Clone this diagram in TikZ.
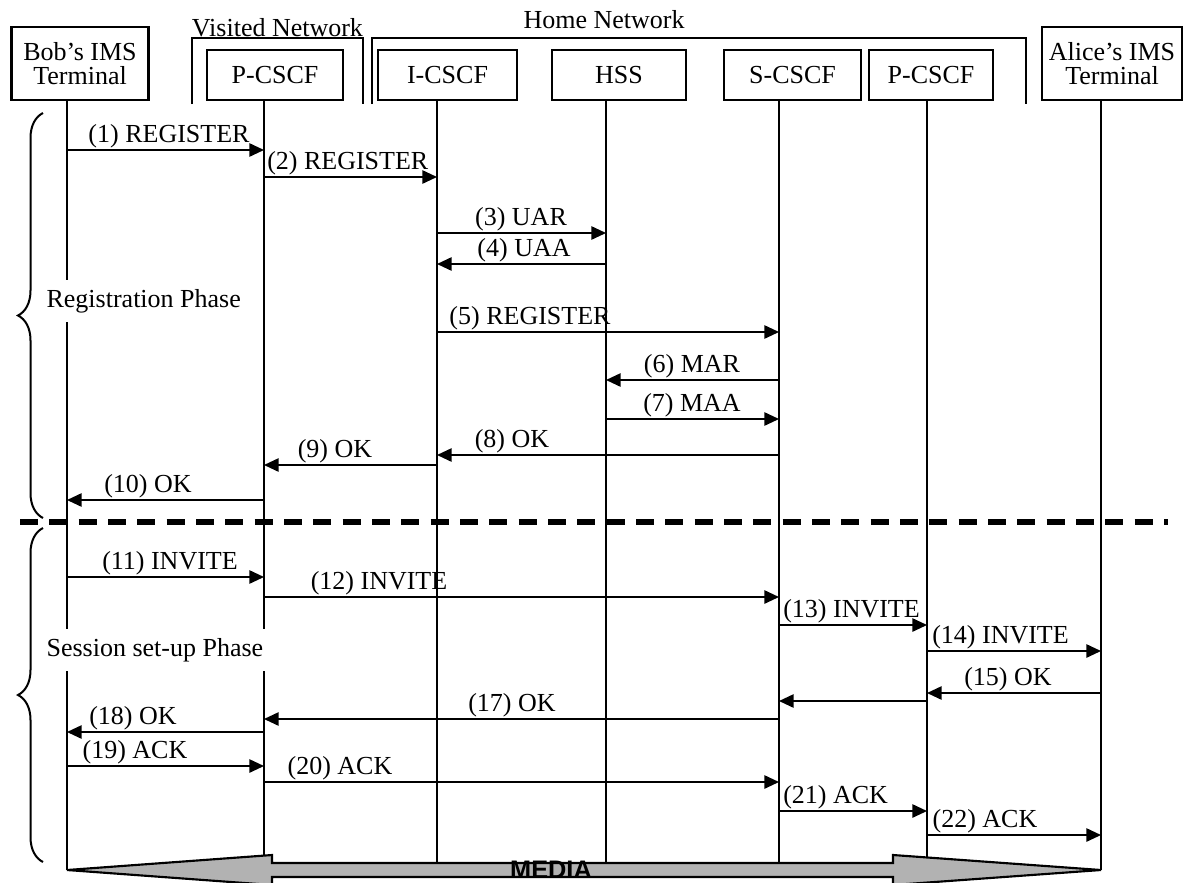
\documentclass[tikz,border=0pt]{standalone}
\usepackage{fontspec}
\setmainfont{Liberation Serif}
\newfontfamily\mediafont{Liberation Sans}
\usetikzlibrary{arrows.meta,decorations.pathreplacing}
\newcommand\sqmsg[7][base]{%
  \coordinate (#2a) at (#3,#5);
  \coordinate (#2b) at (#4,#5);
  \draw[msgline] (#2a) -- (#2b);
  \node[lbl,anchor=#1] (#2t) at (#6,#5-8) {#7};}
\begin{document}
\begin{tikzpicture}[x=0.75pt,y=-0.75pt,
  box/.style={draw, line width=2.2pt, fill=white, inner sep=0pt, align=center,
    font=\fontsize{19.5pt}{18pt}\selectfont},
  life/.style={line width=1.6pt},
  msgline/.style={line width=1.3pt, -{Triangle[length=11pt,width=10pt]}},
  lbl/.style={inner sep=0pt, font=\fontsize{19.5pt}{22pt}\selectfont},
  net/.style={line width=2.2pt},
  phase/.style={fill=white, inner xsep=1pt, inner ysep=7pt, anchor=west,
    font=\fontsize{19.5pt}{22pt}\selectfont},
  dashline/.style={line width=3.8pt, dash pattern=on 13.5pt off 8.5pt},
  brc/.style={decorate, decoration={brace, amplitude=18.75pt}, line width=1.5pt},
  media/.style={draw, line width=1.6pt, fill=black!30}
]
\path[use as bounding box] (0,0) rectangle (1187,882);
\clip (0,0) rectangle (1187,882);

\def\xB{67}\def\xP{264}\def\xI{437}\def\xH{606}\def\xS{779}\def\xQ{927}\def\xA{1101}

% network brackets
\draw[net] (192,104) -- (192,38) -- (363,38) -- (363,104);
\draw[net] (372,104) -- (372,38) -- (1026,38) -- (1026,104);
\node[lbl,anchor=base] (vnet) at (277.5,36) {Visited Network};
\node[lbl,anchor=base] (hnet) at (604,28) {Home Network};

% entity boxes
\node[box, minimum width=102.75pt, minimum height=54.75pt] (bob) at (80,63.5) {Bob’s IMS\\Terminal};
\node[box, minimum width=102pt, minimum height=37.5pt] (pv) at (275,75) {P-CSCF};
\node[box, minimum width=104.25pt, minimum height=37.5pt] (ic) at (447.5,75) {I-CSCF};
\node[box, minimum width=100.5pt, minimum height=37.5pt] (hss) at (619,75) {HSS};
\node[box, minimum width=102.75pt, minimum height=37.5pt] (sc) at (792.5,75) {S-CSCF};
\node[box, minimum width=93pt, minimum height=37.5pt] (ph) at (931,75) {P-CSCF};
\node[box, minimum width=105pt, minimum height=54.75pt] (alice) at (1112,63.5) {Alice’s IMS\\Terminal};

% lifelines
\foreach \n/\x in {lb/\xB, lp/\xP, li/\xI, lh/\xH, ls/\xS, lq/\xQ, la/\xA}{
  \coordinate (\n s) at (\x,100);
  \coordinate (\n e) at (\x,870);
  \draw[life] (\n s) -- (\n e);
}

% messages
\sqmsg{m1}{\xB}{\xP}{150}{169}{(1) REGISTER}
\sqmsg[base west]{m2}{\xP}{\xI}{177}{267}{(2) REGISTER}
\sqmsg{m3}{\xI}{\xH}{233}{521}{(3) UAR}
\sqmsg{m4}{\xH}{\xI}{264}{524}{(4) UAA}
\sqmsg{m5}{\xI}{\xS}{332}{530}{(5) REGISTER}
\sqmsg{m6}{\xS}{\xH}{380}{692}{(6) MAR}
\sqmsg{m7}{\xH}{\xS}{419}{692}{(7) MAA}
\sqmsg{m8}{\xS}{\xI}{455}{512}{(8) OK}
\sqmsg{m9}{\xI}{\xP}{465}{335}{(9) OK}
\sqmsg{m10}{\xP}{\xB}{500}{148}{(10) OK}
\sqmsg{m11}{\xB}{\xP}{577}{170}{(11) INVITE}
\sqmsg{m12}{\xP}{\xS}{597}{379}{(12) INVITE}
\sqmsg[base west]{m13}{\xS}{\xQ}{625}{783}{(13) INVITE}
\sqmsg[base west]{m14}{\xQ}{\xA}{651}{932}{(14) INVITE}
\sqmsg{m15}{\xA}{\xQ}{693}{1008}{(15) OK}
\coordinate (m16a) at (\xQ,701);
\coordinate (m16b) at (\xS,701);
\draw[msgline] (m16a) -- (m16b);
\sqmsg{m17}{\xS}{\xP}{719}{512}{(17) OK}
\sqmsg{m18}{\xP}{\xB}{732}{133}{(18) OK}
\sqmsg{m19}{\xB}{\xP}{766}{135}{(19) ACK}
\sqmsg{m20}{\xP}{\xS}{782}{340}{(20) ACK}
\sqmsg[base west]{m21}{\xS}{\xQ}{811}{783}{(21) ACK}
\sqmsg{m22}{\xQ}{\xA}{835}{985}{(22) ACK}

% phase separator
\coordinate (dl) at (20,522);
\coordinate (dr) at (1168,522);
\draw[dashline] (dl) -- (dr);

% phases
\node[phase] (reg) at (45,301) {Registration Phase};
\node[phase] (ses) at (45,650) {Session set-up Phase};
\coordinate (rb1) at (43,518); \coordinate (rb2) at (43,113);
\coordinate (sb1) at (43,862); \coordinate (sb2) at (43,528);
\draw[brc] (rb1) -- (rb2);
\draw[brc] (sb1) -- (sb2);

% media
\draw[media] (67,870) -- (272,855) -- (272,863) -- (893,863) -- (893,855) -- (1101,870)
  -- (893,885) -- (893,877) -- (272,877) -- (272,885) -- cycle;
\node[inner sep=0pt, anchor=base, font=\mediafont\bfseries\fontsize{19pt}{22pt}\selectfont] (med) at (551,878) {MEDIA};
\end{tikzpicture}
\end{document}
